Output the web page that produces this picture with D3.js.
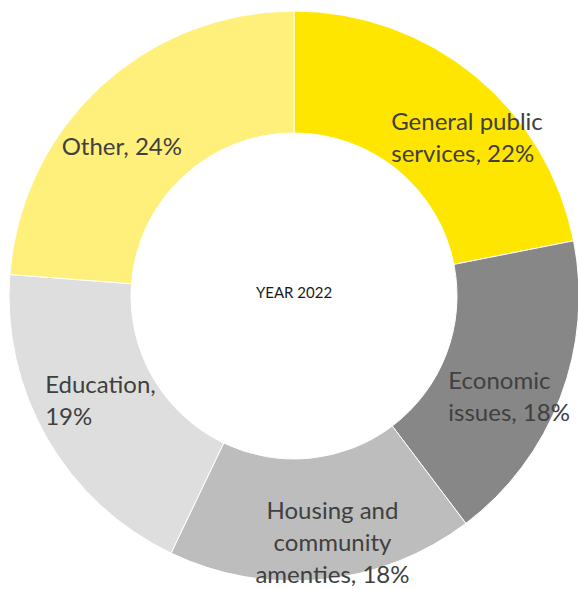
<!DOCTYPE html>
<html lang="en">
<head>
    <meta charset="UTF-8">
    <title>Year 2022</title>
    <script src="https://d3js.org/d3.v7.min.js"></script>
    <style>
        body { margin: 0; background: #fff; font-family: Lato, "Open Sans", sans-serif; }
    </style>
</head>
<body>
    <div id="donut"></div>
    <script>
        // slices, clockwise from 12 o'clock
        const categories = ["General public services", "Economic issues", "Housing and community amenties", "Education", "Other"];
        const values = [21.9, 17.8, 17.4, 19.1, 23.8];
        const labelLines = [
            ["General public", "services, 22%"],
            ["Economic", "issues, 18%"],
            ["Housing and", "community", "amenties, 18%"],
            ["Education,", "19%"],
            ["Other, 24%"]
        ];
        const centerText = "YEAR 2022";

        const colors = ["#ffe600", "#878787", "#bdbdbd", "#dedede", "#fff07c"];

        const width = 578, height = 589;
        const cx = 294, cy = 296;
        const outerR = 285, innerR = 163;

        const svg = d3.select("#donut").append("svg")
            .attr("width", width)
            .attr("height", height);

        const g = svg.append("g").attr("transform", `translate(${cx}, ${cy})`);

        const pie = d3.pie().sort(null).value(d => d)(values);
        const arc = d3.arc().innerRadius(innerR).outerRadius(outerR);

        g.selectAll("path.slice")
            .data(pie)
            .join("path")
            .attr("class", "slice")
            .attr("d", arc)
            .attr("fill", (d, i) => colors[i])
            .attr("stroke", "#fff")
            .attr("stroke-width", 1);

        // label placement: offset from each slice centroid, hand tuned
        const labelOpts = [
            { dx: -45, dy: 7, anchor: "start" },
            { dx: -55, dy: 13, anchor: "start" },
            { dx: 16, dy: 0, anchor: "middle" },
            { dx: -55, dy: -15, anchor: "start" },
            { dx: -80, dy: 23, anchor: "start" }
        ];
        const lineH = 32;

        pie.forEach((d, i) => {
            const [x, y] = arc.centroid(d);
            const o = labelOpts[i];
            const t = g.append("text")
                .attr("x", x + o.dx)
                .attr("y", y + o.dy)
                .attr("text-anchor", o.anchor)
                .attr("fill", "#404040")
                .style("font-size", "24px");
            labelLines[i].forEach((line, j) => {
                t.append("tspan")
                    .attr("x", x + o.dx)
                    .attr("dy", j === 0 ? 0 : lineH)
                    .text(line);
            });
        });

        g.append("text")
            .attr("x", 0)
            .attr("y", -2)
            .attr("text-anchor", "middle")
            .attr("dominant-baseline", "middle")
            .attr("fill", "#1a1a1a")
            .style("font-size", "15px")
            .text(centerText);
    </script>
</body>
</html>
